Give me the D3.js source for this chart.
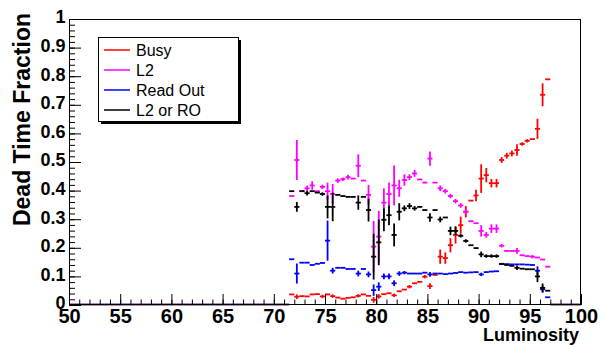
<!DOCTYPE html>
<html>
<head>
<meta charset="utf-8">
<script src="https://cdn.jsdelivr.net/npm/d3@7"></script>
<style>
  html, body { margin: 0; padding: 0; background: #fff; }
  svg { display: block; font-family: "Liberation Sans", Arial, Helvetica, sans-serif; }
</style>
</head>
<body>
<div id="chart"></div>
<script>
// ── Data (bin centres, width 0.5) ──────────────────────────────────────────
const lumStart = 71.75, binWidth = 0.5
const lum = d3.range(51).map(i => lumStart + i * binWidth)

const busy = [0.037, 0.029, 0.031, 0.030, 0.037, 0.038, 0.030, 0.037, 0.031, 0.026,
  0.022, 0.025, 0.027, 0.032, 0.037, 0.032, 0.018, 0.030, 0.038, 0.041,
  0.034, 0.048, 0.054, 0.064, 0.076, 0.081, 0.099, 0.066, 0.105, 0.169,
  0.164, 0.209, 0.245, 0.279, 0.326, 0.365, 0.383, 0.442, 0.454, 0.426,
  0.426, 0.507, 0.522, 0.530, 0.542, 0.563, 0.574, 0.580, 0.616, 0.735, 0.789]
const busyErr = [0, 0.008, 0, 0, 0, 0, 0.006, 0, 0.006, 0,
  0, 0, 0, 0.006, 0, 0, 0.01, 0.008, 0, 0,
  0.006, 0, 0, 0.006, 0, 0, 0.006, 0.01, 0, 0.025,
  0.02, 0.025, 0.03, 0.03, 0.02, 0, 0.02, 0.05, 0.025, 0.015,
  0.015, 0.01, 0.01, 0.01, 0.02, 0.006, 0.006, 0, 0.035, 0.04, 0]

const l2 = [0.381, 0.507, 0.398, 0.408, 0.418, 0.398, 0.413, 0.398, 0.388, 0.435,
  0.440, 0.447, 0.442, 0.487, 0.435, 0.385, 0.204, 0.239, 0.358, 0.388,
  0.418, 0.408, 0.437, 0.447, 0.460, 0.439, 0.428, 0.512, 0.428, 0.408,
  0.398, 0.381, 0.363, 0.348, 0.326, 0.293, 0.286, 0.259, 0.245, 0.267,
  0.267, 0.207, 0.189, 0.189, 0.189, 0.174, 0.171, 0.169, 0.166, 0.159, 0.134]
const l2Err = [0, 0.07, 0, 0.01, 0.015, 0, 0.008, 0.03, 0.035, 0.008,
  0.006, 0.008, 0, 0.04, 0, 0.035, 0.09, 0.09, 0.05, 0.04,
  0.07, 0.03, 0.02, 0.01, 0.012, 0, 0, 0.025, 0, 0.01,
  0.008, 0.008, 0.008, 0.008, 0.008, 0, 0, 0.02, 0.01, 0.015,
  0.015, 0.006, 0, 0, 0.01, 0, 0, 0.006, 0, 0, 0]

const readOut = [0.160, 0.110, 0.148, 0.148, 0.140, 0.144, 0.147, 0.225, 0.120, 0.130,
  0.130, 0.126, 0.126, 0.110, 0.126, 0.107, 0.052, 0.064, 0.100, 0.100,
  0.076, 0.110, 0.113, 0.110, 0.110, 0.110, 0.113, 0.107, 0.110, 0.110,
  0.108, 0.110, 0.112, 0.115, 0.113, 0.114, 0.115, 0.107, 0.115, 0.117,
  0.118, 0.143, 0.143, 0.142, 0.142, 0.142, 0.141, 0.140, 0.120, 0.055, 0.027]
const readOutErr = [0, 0.035, 0, 0, 0, 0, 0, 0.07, 0.01, 0,
  0, 0, 0, 0.01, 0, 0.01, 0.02, 0.015, 0.01, 0.01,
  0.01, 0.008, 0.006, 0, 0, 0, 0, 0.008, 0, 0,
  0, 0, 0, 0, 0, 0, 0, 0.006, 0, 0,
  0, 0, 0, 0, 0, 0, 0, 0, 0.015, 0.012, 0]

const l2OrRo = [0.398, 0.343, 0.398, 0.391, 0.398, 0.393, 0.388, 0.343, 0.343, 0.385,
  0.381, 0.378, 0.378, 0.358, 0.378, 0.332, 0.169, 0.219, 0.298, 0.314,
  0.245, 0.326, 0.338, 0.346, 0.338, 0.343, 0.332, 0.306, 0.332, 0.299,
  0.306, 0.259, 0.259, 0.242, 0.224, 0.209, 0.199, 0.177, 0.171, 0.171,
  0.171, 0.144, 0.140, 0.137, 0.130, 0.127, 0.125, 0.125, 0.100, 0.060, 0.050]
const l2OrRoErr = [0, 0.017, 0, 0.008, 0, 0, 0.006, 0.04, 0.05, 0,
  0, 0, 0, 0.025, 0, 0.04, 0.08, 0.08, 0.04, 0.035,
  0.04, 0.03, 0.01, 0.01, 0.008, 0, 0, 0.015, 0, 0.01,
  0, 0.015, 0.015, 0.006, 0.006, 0, 0, 0.01, 0.006, 0.006,
  0.006, 0, 0, 0, 0.008, 0, 0, 0, 0.02, 0.015, 0]

const series = [
  { label: 'Busy', color: '#ff0000', values: busy, errs: busyErr },
  { label: 'L2', color: '#ff00ff', values: l2, errs: l2Err },
  { label: 'Read Out', color: '#0000ff', values: readOut, errs: readOutErr },
  { label: 'L2 or RO', color: '#000000', values: l2OrRo, errs: l2OrRoErr },
]

const xDomain = [50, 100]
const yDomain = [0, 1]
const xMajor = d3.range(50, 101, 5)
const xMinor = d3.range(50, 101, 1)
const yMajor = d3.range(0, 11).map(i => i / 10)
const yMinor = d3.range(0, 51).map(i => i / 50)
const yTickLabels = ['0', '0.1', '0.2', '0.3', '0.4', '0.5', '0.6', '0.7', '0.8', '0.9', '1']

// ── Layout ────────────────────────────────────────────────────────────────
const W = 607, H = 346
const padL = 69, padR = 581, padT = 19, padB = 305

const svg = d3.select('#chart').append('svg').attr('width', W).attr('height', H)

const x = d3.scaleLinear().domain(xDomain).range([padL, padR])
const y = d3.scaleLinear().domain(yDomain).range([padB, padT])

// Empty bins drawn at zero
const firstEdge = lum[0] - binWidth / 2
const lastEdge = lum[lum.length - 1] + binWidth / 2
svg.append('g').selectAll('line')
  .data([[xDomain[0], firstEdge], [lastEdge, xDomain[1]]])
  .join('line')
  .attr('x1', d => x(d[0])).attr('x2', d => x(d[1]))
  .attr('y1', y(0) - 0.5).attr('y2', y(0) - 0.5)
  .attr('stroke', '#5e1f70').attr('stroke-width', 2)

// ── Series (error bars) ───────────────────────────────────────────────────
series.forEach(s => {
  const g = svg.append('g').attr('stroke', s.color).attr('stroke-width', 1.8).attr('fill', 'none')
  const pts = lum.map((l, i) => ({ l, v: s.values[i], e: s.errs[i] }))
  g.selectAll('line.h').data(pts).join('line').attr('class', 'h')
    .attr('x1', d => x(d.l - binWidth / 2)).attr('x2', d => x(d.l + binWidth / 2))
    .attr('y1', d => y(d.v)).attr('y2', d => y(d.v))
  g.selectAll('line.v').data(pts.filter(d => d.e > 0)).join('line').attr('class', 'v')
    .attr('x1', d => x(d.l)).attr('x2', d => x(d.l))
    .attr('y1', d => y(d.v - d.e)).attr('y2', d => y(d.v + d.e))
})

// ── Axes ──────────────────────────────────────────────────────────────────
const styleAxis = g => {
  g.select('.domain').remove()
  g.selectAll('line').attr('stroke', '#000')
}

svg.append('g').attr('transform', `translate(0,${padB})`)
  .call(d3.axisBottom(x).tickValues(xMinor).tickSize(-5.5).tickFormat(''))
  .call(styleAxis)
svg.append('g').attr('transform', `translate(0,${padB})`)
  .call(d3.axisBottom(x).tickValues(xMajor).tickSize(-11).tickPadding(4).tickFormat(d3.format('d')))
  .call(styleAxis)
  .call(g => g.selectAll('text').attr('fill', '#000').style('font-size', '20px').style('font-weight', 'bold'))

svg.append('g').attr('transform', `translate(${padL},0)`)
  .call(d3.axisLeft(y).tickValues(yMinor).tickSize(-6).tickFormat(''))
  .call(styleAxis)
svg.append('g').attr('transform', `translate(${padL},0)`)
  .call(d3.axisLeft(y).tickValues(yMajor).tickSize(-12).tickPadding(3.5).tickFormat((d, i) => yTickLabels[i]))
  .call(styleAxis)
  .call(g => g.selectAll('text').attr('fill', '#000').attr('dy', '0.22em')
    .style('font-size', '18px').style('font-weight', 'bold'))

// Frame
svg.append('rect').attr('x', padL + 0.5).attr('y', padT + 0.5)
  .attr('width', padR - padL - 1).attr('height', padB - padT - 1)
  .attr('fill', 'none').attr('stroke', '#000').attr('stroke-width', 1)

// Axis titles
svg.append('text').attr('x', padR - 2).attr('y', 341).attr('text-anchor', 'end')
  .style('font-size', '18px').style('font-weight', 'bold').text('Luminosity')
svg.append('text').attr('transform', `translate(30,13) rotate(-90)`).attr('text-anchor', 'end')
  .style('font-size', '23px').style('font-weight', 'bold').text('Dead Time Fraction')

// ── Legend ────────────────────────────────────────────────────────────────
const leg = svg.append('g')
leg.append('rect').attr('x', 101).attr('y', 40).attr('width', 140).attr('height', 84).attr('fill', '#000')
leg.append('rect').attr('x', 98.5).attr('y', 37.5).attr('width', 140).attr('height', 84)
  .attr('fill', '#fff').attr('stroke', '#000').attr('stroke-width', 1)
series.forEach((s, i) => {
  const cy = 50 + i * 20
  leg.append('line').attr('x1', 104).attr('x2', 130).attr('y1', cy).attr('y2', cy)
    .attr('stroke', s.color).attr('stroke-width', 1.5)
  leg.append('text').attr('x', 136).attr('y', cy + 6).style('font-size', '16px').attr('fill', '#000').text(s.label)
})
</script>
</body>
</html>
